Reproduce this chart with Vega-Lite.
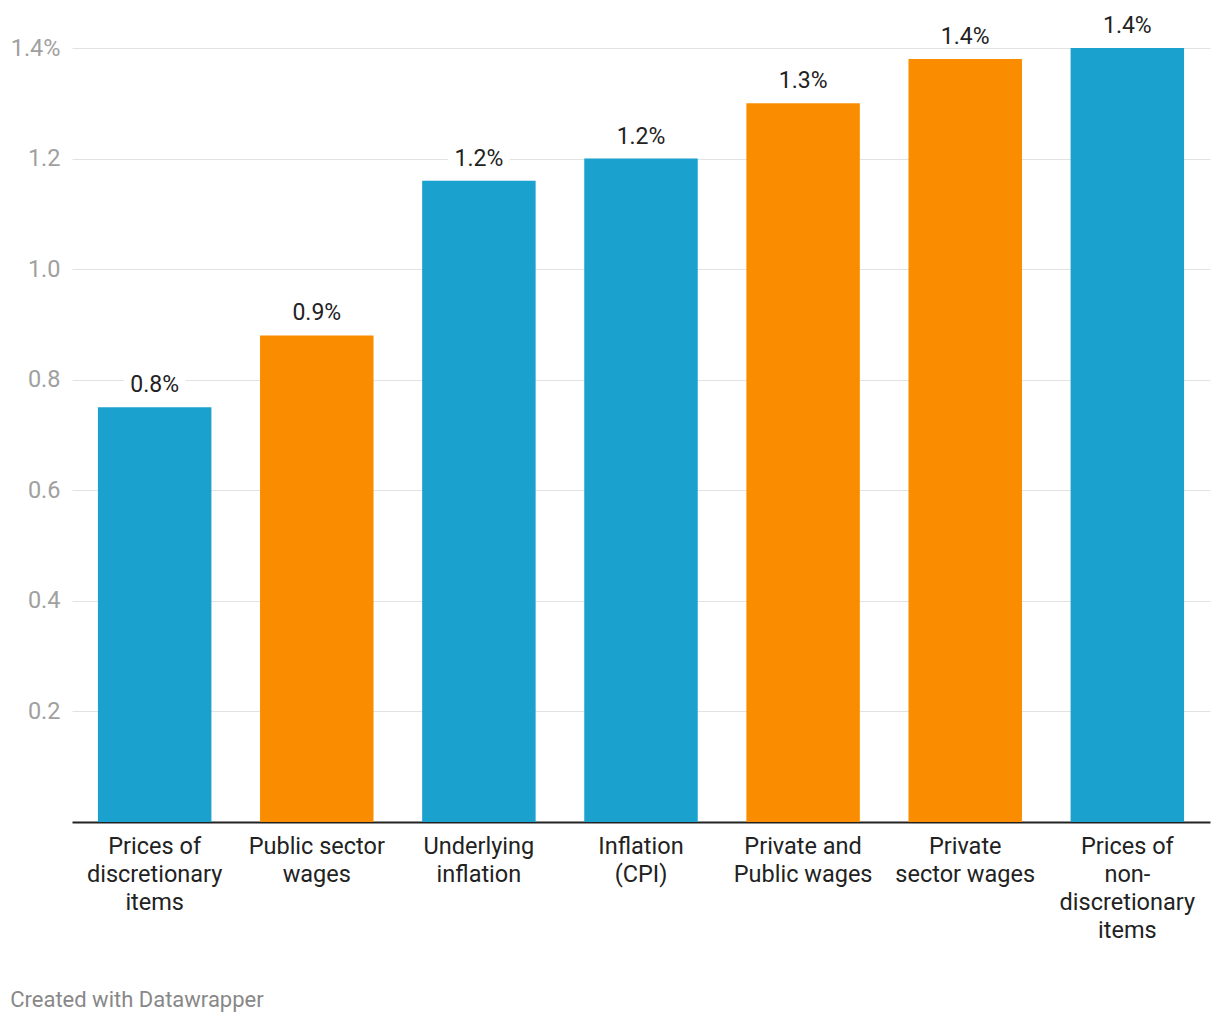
{
  "$schema": "https://vega.github.io/schema/vega-lite/v6.json",
  "autosize": "none",
  "width": 1138,
  "height": 774,
  "padding": {"left": 72, "top": 48, "right": 10, "bottom": 198},
  "background": "white",
  "config": {
    "font": "Roboto",
    "view": {"stroke": null},
    "title": {"font": "Roboto"}
  },
  "title": {
    "text": "Created with Datawrapper",
    "orient": "bottom",
    "anchor": "start",
    "frame": "bounds",
    "fontSize": 22,
    "fontWeight": "normal",
    "color": "#888888",
    "offset": 48
  },
  "data": {
    "values": [
      {"category": "Prices of|discretionary|items", "value": 0.75, "group": "prices"},
      {"category": "Public sector|wages", "value": 0.88, "group": "wages"},
      {"category": "Underlying|inflation", "value": 1.16, "group": "prices"},
      {"category": "Inflation|(CPI)", "value": 1.2, "group": "prices"},
      {"category": "Private and|Public wages", "value": 1.3, "group": "wages"},
      {"category": "Private|sector wages", "value": 1.38, "group": "wages"},
      {"category": "Prices of|non-|discretionary|items", "value": 1.4, "group": "prices"}
    ]
  },
  "encoding": {
    "x": {
      "field": "category",
      "type": "nominal",
      "sort": null,
      "scale": {"paddingInner": 0.3, "paddingOuter": 0.16},
      "axis": {
        "title": null,
        "labelAngle": 0,
        "labelExpr": "split(datum.label, '|')",
        "labelFontSize": 23.5,
        "labelLineHeight": 28,
        "labelColor": "#222222",
        "labelPadding": 12,
        "labelLimit": 0,
        "ticks": false,
        "domain": true,
        "domainColor": "#222222",
        "domainWidth": 2,
        "labelBaseline": "top"
      }
    }
  },
  "layer": [
    {
      "mark": {"type": "bar"},
      "encoding": {
        "y": {
          "field": "value",
          "type": "quantitative",
          "scale": {"domain": [0, 1.4], "nice": false},
          "axis": {
            "title": null,
            "values": [0.2, 0.4, 0.6, 0.8, 1.0, 1.2, 1.4],
            "labelExpr": "datum.value >= 1.39 ? '1.4%' : format(datum.value, '.1f')",
            "labelFontSize": 23.5,
            "labelColor": "#a0a0a0",
            "labelPadding": 12,
            "ticks": false,
            "domain": false,
            "grid": true,
            "gridColor": "#e2e2e2",
            "gridWidth": 1
          }
        },
        "color": {
          "field": "group",
          "type": "nominal",
          "scale": {"domain": ["prices", "wages"], "range": ["#1aa1cd", "#fa8c00"]},
          "legend": null
        }
      }
    },
    {
      "mark": {"type": "bar", "color": "white", "width": 62, "yOffset": -34, "y2Offset": -12},
      "encoding": {
        "y": {"field": "value", "type": "quantitative"},
        "y2": {"field": "value"}
      }
    },
    {
      "transform": [{"calculate": "format(datum.value, '.1f') + '%'", "as": "lbl"}],
      "mark": {"type": "text", "baseline": "alphabetic", "dy": -15, "fontSize": 23, "color": "#222222"},
      "encoding": {
        "y": {"field": "value", "type": "quantitative"},
        "text": {"field": "lbl", "type": "nominal"}
      }
    }
  ]
}
